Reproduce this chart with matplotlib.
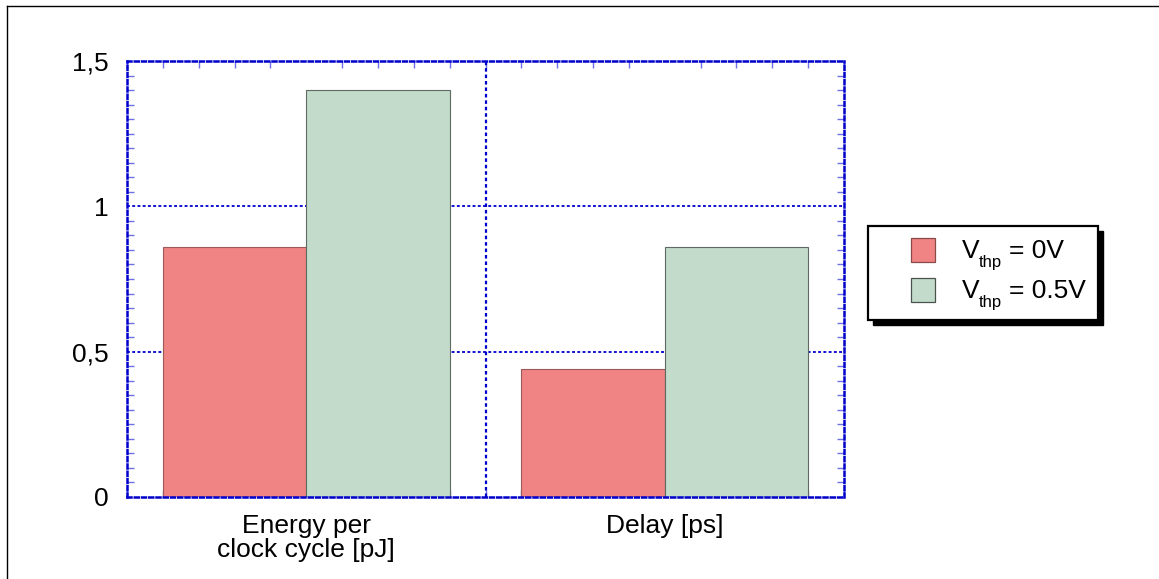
import matplotlib
matplotlib.use("Agg")
import matplotlib.pyplot as plt
import numpy as np
from matplotlib.ticker import MultipleLocator, FixedLocator
from matplotlib.lines import Line2D
from matplotlib.patches import Rectangle

plt.rcParams['font.family'] = ['Liberation Sans', 'DejaVu Sans']

categories = ["Energy per\nclock cycle [pJ]", "Delay [ps]"]
series_main = ["V", "V"]
series_sub = ["thp", "thp"]
series_rest = ["= 0V", "= 0.5V"]
vals_0V = [0.86, 0.44]
vals_05V = [1.40, 0.86]
yticks = [0, 0.5, 1, 1.5]
ytick_labels = ["0", "0,5", "1", "1,5"]

red = "#F08383"
green = "#C3DBCA"
blue = "#0000CC"
tickblue = "#7070E6"
colors = [red, green]
edges = ["#8A4A4A", "#4A524C"]

W, H = 1159, 579
fig = plt.figure(figsize=(W/100, H/100), dpi=100)
ax = fig.add_axes([127/W, 1-497/H, (844-127)/W, (497-61)/H])

def px(x, y):
    return (x/W, 1 - y/H)

x = np.arange(len(categories))
w = 0.4
ax.bar(x - w/2, vals_0V, width=w, color=red, edgecolor="#9A5A5A", linewidth=0.8, zorder=2)
ax.bar(x + w/2, vals_05V, width=w, color=green, edgecolor="#5E6B62", linewidth=0.8, zorder=2)

ax.set_xlim(-0.5, 1.5)
ax.set_ylim(0, 1.5)

dot = (0, (1.6, 1.3))
for yv in [0.5, 1.0]:
    ax.axhline(yv, color=blue, linestyle=dot, linewidth=1.3, zorder=1)
ax.axvline(0.5, color=blue, linestyle=dot, linewidth=1.6, zorder=3)

for s in ax.spines.values():
    s.set_color(blue)
    s.set_linestyle(dot)
    s.set_linewidth(1.8)

ax.set_xticks(x)
ax.set_xticklabels(categories, fontsize=19, linespacing=1.0)
ax.xaxis.set_minor_locator(FixedLocator(np.round(np.arange(-0.5, 1.501, 0.1), 3)))
ax.set_yticks(yticks)
ax.set_yticklabels(ytick_labels, fontsize=19)
ax.yaxis.set_minor_locator(MultipleLocator(0.05))

ax.tick_params(axis='x', which='major', length=0, pad=12)
ax.tick_params(axis='y', which='major', length=0, pad=13)
ax.tick_params(which='minor', direction='in', length=5, width=1, color=tickblue,
               top=True, bottom=True, left=True, right=True)

# legend box (manual, with offset shadow)
lx0, ly0, lx1, ly1 = 868, 226, 1098, 320
fig.add_artist(Rectangle(px(lx0 + 5, ly1 + 5), (lx1 - lx0)/W, (ly1 - ly0)/H,
                         transform=fig.transFigure, facecolor='black', edgecolor='black', zorder=5))
fig.add_artist(Rectangle(px(lx0, ly1), (lx1 - lx0)/W, (ly1 - ly0)/H,
                         transform=fig.transFigure, facecolor='white', edgecolor='black',
                         linewidth=1.6, zorder=6))
for i in range(2):
    top = 238 + 40 * i
    fig.add_artist(Rectangle(px(911, top + 24), 24/W, 24/H, transform=fig.transFigure,
                             facecolor=colors[i], edgecolor=edges[i], linewidth=0.9, zorder=7))
    base = 258 + 40 * i
    fig.text(*px(962, base), series_main[i], fontsize=19, ha='left', va='baseline', zorder=8)
    fig.text(*px(979, base + 9), series_sub[i], fontsize=12, ha='left', va='baseline', zorder=8)
    fig.text(*px(1009, base), series_rest[i], fontsize=19, ha='left', va='baseline', zorder=8)

# figure border (left and top)
fig.add_artist(Line2D([7/W, 7/W], [0, 1-6/H], transform=fig.transFigure, color='black', linewidth=1))
fig.add_artist(Line2D([7/W, 1], [1-6/H, 1-6/H], transform=fig.transFigure, color='black', linewidth=1))

fig.savefig("out.png", dpi=100)
